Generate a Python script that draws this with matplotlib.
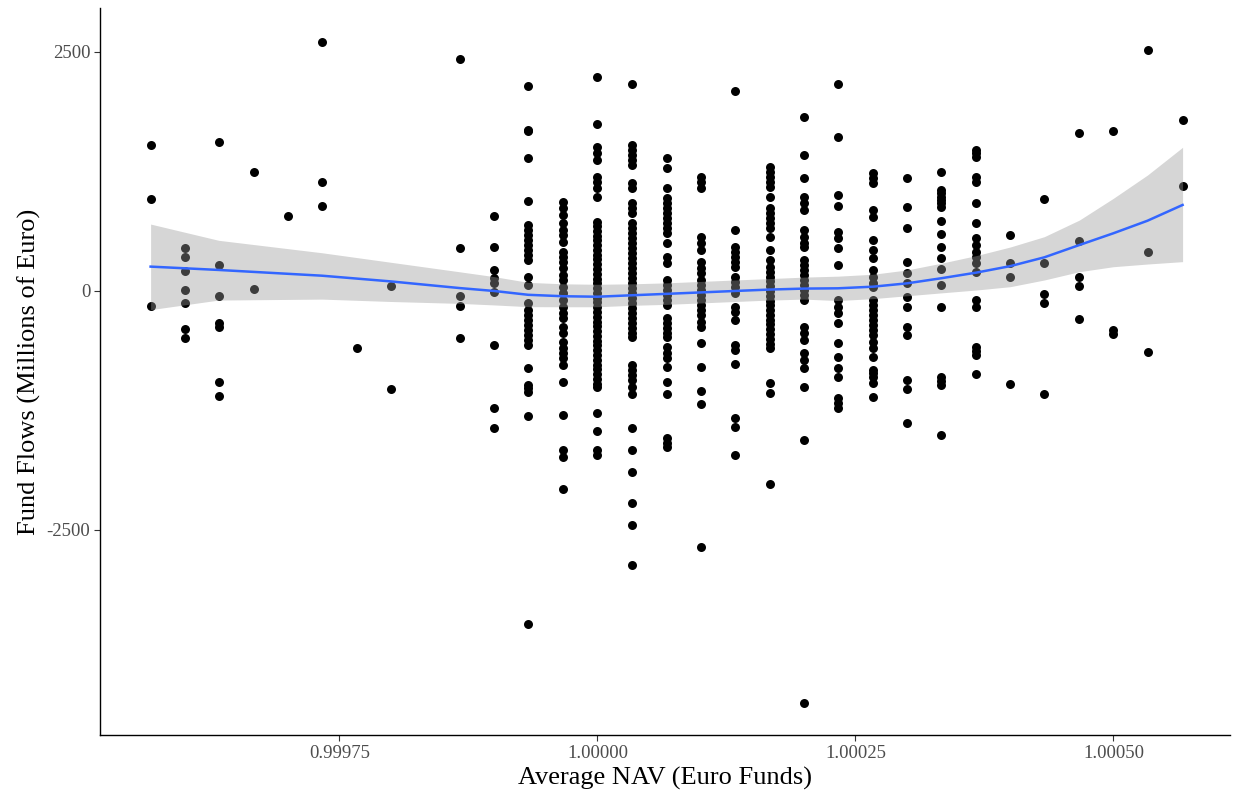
import numpy as np
import matplotlib
matplotlib.use("Agg")
import matplotlib.pyplot as plt

plt.rcParams['font.family'] = ['Liberation Serif', 'DejaVu Serif']

# NAV levels (x) and the fund flows observed at each level (y)
nav_levels = [0.999567, 0.999600, 0.999633, 0.999667, 0.999700, 0.999733, 0.999767,
              0.999800, 0.999833, 0.999867, 0.999900, 0.999933, 0.999967, 1.000000,
              1.000033, 1.000067, 1.000100, 1.000133, 1.000167, 1.000200, 1.000233,
              1.000267, 1.000300, 1.000333, 1.000367, 1.000400, 1.000433, 1.000467,
              1.000500, 1.000533, 1.000567]

fund_flows = [
    [1527, 959, -157],
    [450, 356, 212, 7, -122, -401, -495],
    [1562, 269, -49, -332, -373, -952, -1098],
    [1245, 24],
    [785],
    [2608, 1137, 889],
    [-600],
    [56, -1025],
    [],
    [2430, 447, -49, -157, -495],
    [785, 464, 220, 133, 80, -7, -565, -1220, -1433],
    [2148, 1684, 1670, 1388, 941, 690, 638, 586, 533, 481, 429, 377, 324, 150, 63,
     -129, -199, -251, -303, -356, -408, -460, -513, -565, -802, -983, -1018, -1053,
     -1308, -3483],
    [934, 865, 795, 708, 638, 586, 516, 411, 359, 307, 237, 167, 115, 45, -24, -94,
     -164, -234, -286, -373, -443, -530, -600, -650, -704, -774, -955, -1294, -1663,
     -1733, -2071],
    [2242, 1747, 1503, 1440, 1370, 1196, 1143, 1074, 986, 725, 680, 630, 580, 530, 480,
     430, 380, 330, 280, 230, 180, 130, 80, 30, -20, -70, -120, -170, -220, -270, -320,
     -370, -420, -470, -520, -570, -620, -670, -720, -770, -820, -870, -920, -970,
     -1000, -1273, -1464, -1663, -1715],
    [2165, 1527, 1475, 1422, 1370, 1318, 1127, 1074, 917, 865, 812, 708, 656, 604, 551,
     499, 447, 394, 342, 290, 237, 185, 133, 80, 28, -24, -76, -129, -181, -234, -286,
     -338, -390, -443, -478, -774, -826, -879, -931, -1001, -1077, -1436, -1663, -1897,
     -2214, -2448, -2869],
    [1388, 1283, 1074, 970, 917, 865, 812, 760, 708, 656, 604, 499, 359, 290, 115, 63,
     10, -42, -94, -147, -286, -338, -390, -443, -478, -583, -652, -704, -792, -955,
     -1077, -1541, -1585, -1629],
    [1196, 1143, 1074, 568, 499, 429, 307, 237, 185, 115, 63, 10, -42, -94, -147, -199,
     -251, -321, -373, -548, -792, -1043, -1182, -2675],
    [2095, 638, 464, 412, 359, 307, 254, 150, 98, 45, -24, -164, -216, -303, -565, -617,
     -764, -1332, -1420, -1715],
    [1300, 1248, 1196, 1143, 1091, 986, 865, 812, 760, 708, 656, 568, 429, 324, 255, 200,
     150, 100, 50, 0, -50, -100, -150, -200, -250, -300, -350, -400, -450, -500, -550,
     -600, -966, -1064, -2019],
    [1823, 1422, 1179, 986, 917, 847, 638, 568, 499, 464, 324, 272, 220, 167, 115, 63, 10,
     -42, -94, -373, -443, -513, -652, -722, -804, -1008, -1559, -4306],
    [2165, 1614, 1004, 889, 621, 551, 447, 272, -94, -164, -234, -338, -548, -687, -809,
     -896, -1123, -1175, -1227],
    [1231, 1179, 1127, 847, 777, 533, 429, 342, 220, 150, 80, 45, -94, -147, -199, -251,
     -303, -356, -408, -460, -530, -600, -687, -826, -861, -896, -966, -1112],
    [1179, 882, 656, 307, 185, 80, -60, -164, -373, -460, -931, -1028, -1377],
    [1241, 1056, 1021, 986, 951, 917, 882, 732, 593, 464, 342, 227, 63, -171, -896, -940,
     -983, -1506],
    [1475, 1440, 1405, 1196, 1143, 924, 708, 551, 481, 412, 359, 290, 202, -94, -164,
     -583, -630, -670, -868],
    [586, 296, 150, -973],
    [959, 290, -31, -122, -1077],
    [1650, 523, 150, 56, -296],
    [1670, -408, -450],
    [2521, 411, -635],
    [1792, 1101],
]

# loess fit and its confidence band
smooth_nav = [0.999567, 0.999633, 0.999733, 0.999800, 0.999867, 0.999900, 0.999933,
              0.999967, 1.000000, 1.000033, 1.000067, 1.000100, 1.000133, 1.000167,
              1.000200, 1.000233, 1.000267, 1.000300, 1.000333, 1.000367, 1.000400,
              1.000433, 1.000467, 1.000500, 1.000533, 1.000567]
smooth_fit = [255, 220, 160, 100, 30, 0, -40, -55, -60, -45, -30, -15, 0, 15, 25, 28,
              45, 80, 133, 192, 260, 352, 481, 604, 735, 900]
smooth_lo = [-195, -95, -85, -110, -130, -146, -164, -165, -165, -150, -140, -125, -110,
             -95, -85, -100, -80, -50, -20, 10, 45, 115, 202, 254, 282, 307]
smooth_hi = [700, 530, 400, 300, 200, 150, 90, 75, 70, 75, 85, 100, 115, 130, 145, 155,
             175, 220, 290, 370, 460, 568, 742, 970, 1213, 1503]

x = []
y = []
for nav, flows in zip(nav_levels, fund_flows):
    x += [nav] * len(flows)
    y += flows

fig = plt.figure(figsize=(12.35, 8.02), dpi=100)
ax = fig.add_axes([0.081, 0.0835, 0.915, 0.9065])

ax.scatter(x, y, s=42, color='black', linewidths=0, zorder=2)
ax.fill_between(smooth_nav, smooth_lo, smooth_hi, color='#999999', alpha=0.4,
                linewidth=0, zorder=3)
ax.plot(smooth_nav, smooth_fit, color='#3366FF', linewidth=1.8, zorder=4)

ax.set_xlim(0.999518, 1.000613)
ax.set_ylim(-4645, 2960)
ax.set_xticks([0.99975, 1.0, 1.00025, 1.0005])
ax.set_xticklabels(['0.99975', '1.00000', '1.00025', '1.00050'])
ax.set_yticks([2500, 0, -2500])
ax.set_yticklabels(['2500', '0', '-2500'])

for side in ['top', 'right']:
    ax.spines[side].set_visible(False)
for side in ['left', 'bottom']:
    ax.spines[side].set_linewidth(1.0)
ax.tick_params(axis='both', colors='#333333', labelcolor='#4D4D4D', labelsize=13.5,
               length=4, width=0.8, pad=3)

ax.set_xlabel('Average NAV (Euro Funds)', fontsize=19, labelpad=4)
ax.set_ylabel('Fund Flows (Millions of Euro)', fontsize=19, labelpad=4)

fig.savefig('out.png', dpi=100)
